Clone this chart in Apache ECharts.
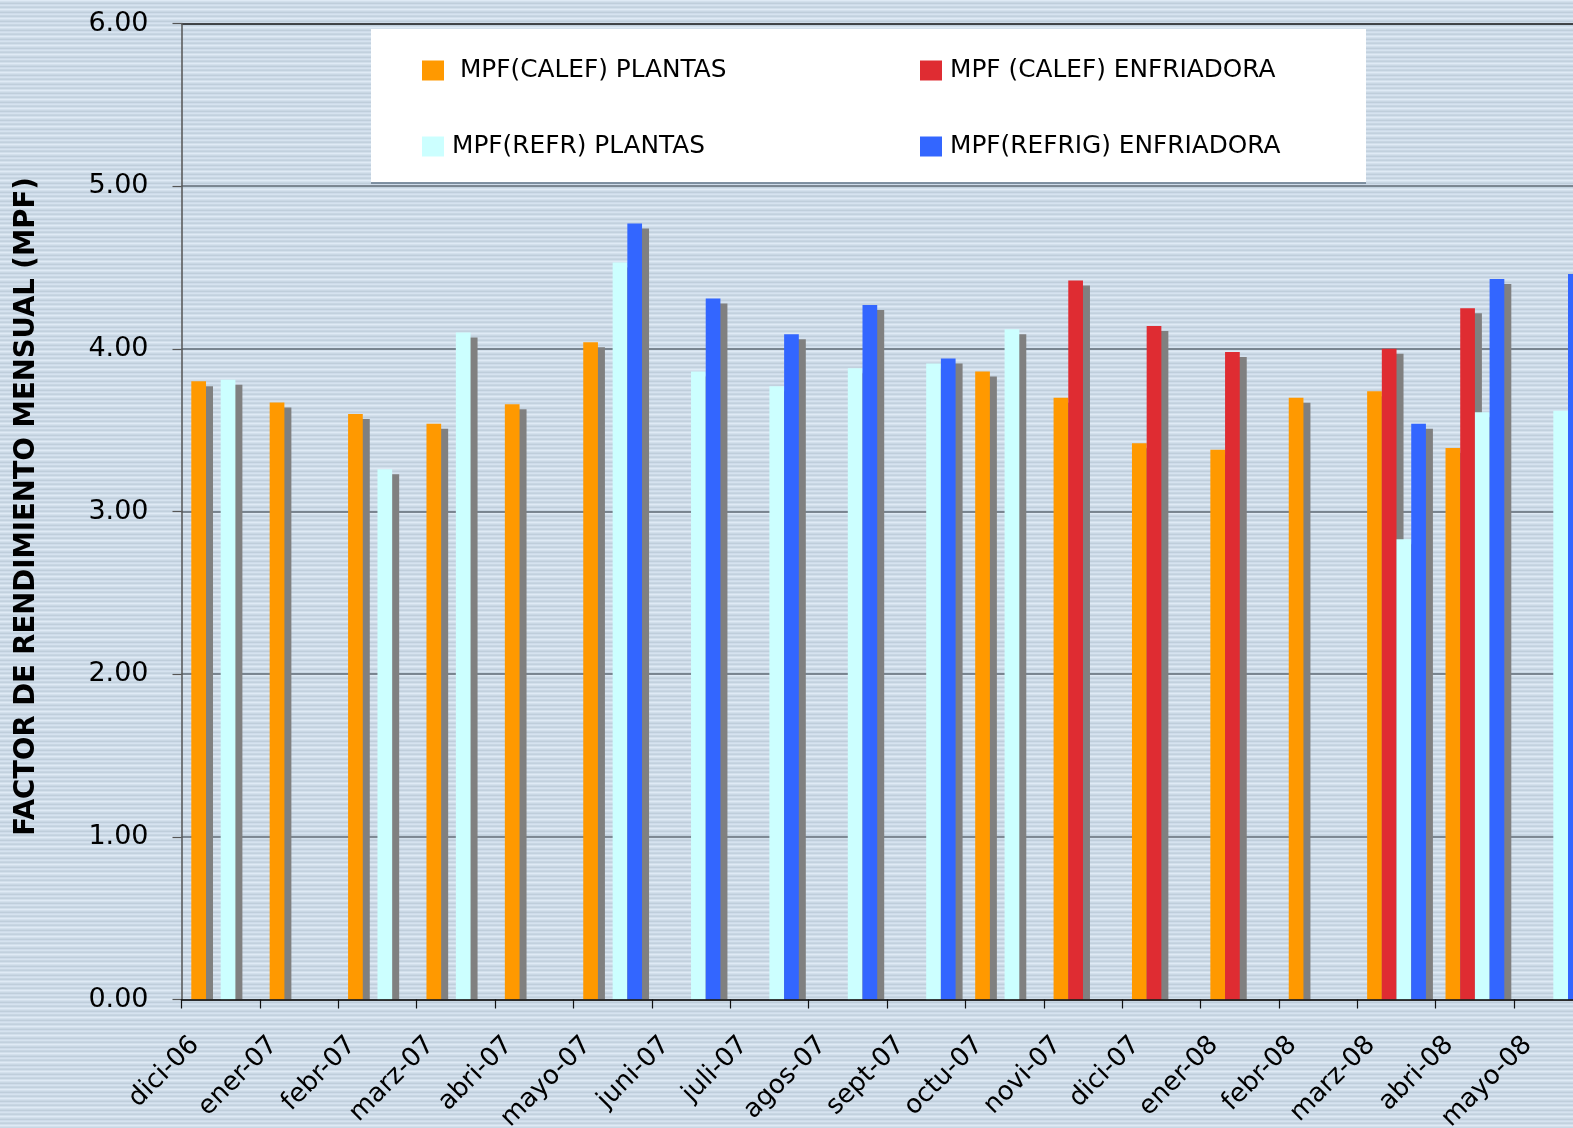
<!DOCTYPE html>
<html>
<head>
<meta charset="utf-8">
<script src="https://cdn.jsdelivr.net/npm/echarts@6/dist/echarts.min.js"></script>
<style>
  html, body { margin: 0; padding: 0; }
  #chart { width: 1573px; height: 1128px; }
</style>
</head>
<body>
<div id="chart"></div>
<script>
const categories = ['dici-06','ener-07','febr-07','marz-07','abri-07','mayo-07','juni-07','juli-07','agos-07','sept-07','octu-07','novi-07','dici-07','ener-08','febr-08','marz-08','abri-08','mayo-08'];
const calefPlantas =     [3.80, 3.67, 3.60, 3.54, 3.66, 4.04, null, null, null, null, 3.86, 3.70, 3.42, 3.38, 3.70, 3.74, 3.39, null];
const calefEnfriadora =  [null, null, null, null, null, null, null, null, null, null, null, 4.42, 4.14, 3.98, null, 4.00, 4.25, null];
const refrPlantas =      [3.81, null, 3.26, 4.10, null, 4.53, 3.86, 3.77, 3.88, 3.91, 4.12, null, null, null, null, 2.83, 3.61, 3.62];
const refrigEnfriadora = [null, null, null, null, null, 4.77, 4.31, 4.09, 4.27, 3.94, null, null, null, null, null, 3.54, 4.43, 4.46];
const seriesNames = ['MPF(CALEF) PLANTAS', 'MPF (CALEF) ENFRIADORA', 'MPF(REFR) PLANTAS', 'MPF(REFRIG) ENFRIADORA'];
const yTicks = [0, 1, 2, 3, 4, 5, 6];

// striped background pattern
const pc = document.createElement('canvas');
pc.width = 8; pc.height = 9;
const pctx = pc.getContext('2d');
['#dfeaf5','#d3e0ec','#c9d7e4','#bfcedb','#cfdcea','#d6e3ef','#c8d6e3','#c2d1de','#d2dfeb'].forEach((c, i) => {
  pctx.fillStyle = c; pctx.fillRect(0, i, 8, 1);
});
const bgPattern = { image: pc, repeat: 'repeat' };

const FONT = 'DejaVu Sans';
const colors = ['#FF9900', '#DF2C32', '#CCFFFF', '#3366FF'];
const dataSets = [calefPlantas, calefEnfriadora, refrPlantas, refrigEnfriadora];

const chart = echarts.init(document.getElementById('chart'), null, { renderer: 'canvas' });

const legendPos = [
  { left: 422, top: 57 },
  { left: 920, top: 57 },
  { left: 422, top: 133 },
  { left: 920, top: 133 }
];

const option = {
  backgroundColor: bgPattern,
  animation: false,
  textStyle: { fontFamily: FONT },
  grid: { left: 181.5, top: 23.5, height: 976, width: 1411, containLabel: false, outerBoundsMode: 'none' },
  legend: seriesNames.map((n, i) => ({
    data: [n],
    left: legendPos[i].left,
    top: legendPos[i].top,
    padding: 0,
    icon: 'rect',
    itemWidth: 22,
    itemHeight: 20,
    selectedMode: false,
    formatter: i === 0 ? ' {name}' : '{name}',
    textStyle: { fontFamily: FONT, fontSize: 24.8, color: '#000', lineHeight: 24, padding: [3, 0, 0, 3] }
  })),
  graphic: [
    {
      type: 'rect', z: 3,
      shape: { x: 371, y: 29, width: 995, height: 153 },
      style: { fill: '#ffffff', shadowColor: 'rgba(70,90,110,0.55)', shadowOffsetX: 0, shadowOffsetY: 2, shadowBlur: 0 }
    },
    {
      type: 'rect', z: 5,
      shape: { x: 183, y: 1001, width: 1400, height: 7 },
      style: { fill: bgPattern }
    }
  ],
  xAxis: {
    type: 'category',
    data: categories,
    boundaryGap: true,
    z: 10,
    axisLine: { show: true, lineStyle: { color: '#111', width: 1.5 } },
    axisTick: { show: true, length: 9, interval: 0, lineStyle: { color: '#111', width: 1.2 } },
    axisLabel: {
      interval: 0, rotate: 45, fontSize: 26, color: '#000', fontFamily: FONT,
      margin: 16, padding: [0, 36, 0, 0]
    },
    splitLine: { show: false }
  },
  yAxis: {
    type: 'value',
    min: 0, max: 6, interval: 1,
    name: 'FACTOR DE RENDIMIENTO MENSUAL (MPF)',
    nameLocation: 'middle',
    nameGap: 141,
    nameTextStyle: { fontFamily: FONT, fontWeight: 'bold', fontSize: 27.5, color: '#000', padding: [0, 0, 0, 10] },
    axisLine: { show: true, lineStyle: { color: '#555', width: 1.5 } },
    axisTick: { show: true, length: 9, lineStyle: { color: '#555', width: 1.2 } },
    axisLabel: {
      fontSize: 27, color: '#000', fontFamily: FONT, margin: 33, padding: [6, 0, 0, 0],
      formatter: v => yTicks.includes(v) ? v.toFixed(2) : ''
    },
    splitLine: { show: true, lineStyle: { color: ['#5f6a74','#5f6a74','#5f6a74','#5f6a74','#5f6a74','#5f6a74','#111'], width: 1.6 } }
  },
  series: seriesNames.map((n, i) => ({
    name: n,
    type: 'bar',
    data: dataSets[i],
    barGap: '0%',
    barCategoryGap: '25%',
    itemStyle: {
      color: colors[i],
      shadowColor: '#808080',
      shadowOffsetX: 7,
      shadowOffsetY: 5,
      shadowBlur: 0
    },
    emphasis: { disabled: true }
  }))
};

chart.setOption(option);
</script>
</body>
</html>
